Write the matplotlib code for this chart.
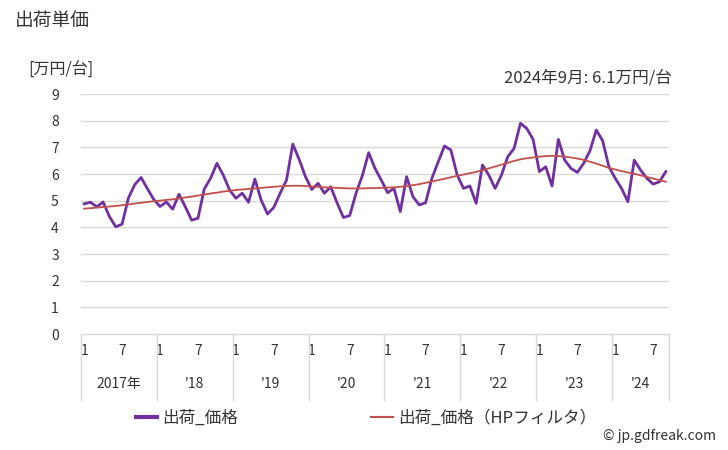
import matplotlib.pyplot as plt
import matplotlib.transforms as mtransforms
from matplotlib.lines import Line2D

plt.rcParams['font.family'] = ['Noto Sans CJK JP', 'DejaVu Sans']

# monthly unit price, Jan 2017 - Sep 2024 (万円/台)
price = [
    4.88, 4.94, 4.77, 4.95, 4.40, 4.02, 4.12, 5.10, 5.60, 5.87, 5.45, 5.05,
    4.78, 4.95, 4.68, 5.24, 4.77, 4.27, 4.34, 5.44, 5.84, 6.40, 5.96, 5.40,
    5.09, 5.28, 4.94, 5.81, 5.02, 4.50, 4.75, 5.28, 5.77, 7.12, 6.55, 5.90,
    5.42, 5.65, 5.28, 5.52, 4.92, 4.37, 4.44, 5.28, 5.94, 6.80, 6.21, 5.77,
    5.30, 5.46, 4.59, 5.90, 5.15, 4.84, 4.92, 5.84, 6.46, 7.05, 6.90, 5.96,
    5.46, 5.55, 4.90, 6.34, 5.96, 5.46, 5.96, 6.65, 6.96, 7.90, 7.71, 7.30,
    6.09, 6.27, 5.55, 7.30, 6.52, 6.21, 6.06, 6.40, 6.87, 7.65, 7.25, 6.27,
    5.84, 5.46, 4.96, 6.52, 6.15, 5.84, 5.62, 5.71, 6.09,
]
# HP filter trend
trend = [
    4.70, 4.72, 4.74, 4.76, 4.78, 4.80, 4.83, 4.86, 4.89, 4.92, 4.95, 4.98,
    5.00, 5.03, 5.05, 5.08, 5.12, 5.15, 5.19, 5.23, 5.27, 5.30, 5.34, 5.37,
    5.40, 5.42, 5.44, 5.46, 5.48, 5.50, 5.52, 5.54, 5.55, 5.56, 5.56, 5.55,
    5.53, 5.52, 5.50, 5.49, 5.48, 5.47, 5.46, 5.46, 5.46, 5.47, 5.47, 5.48,
    5.49, 5.50, 5.52, 5.55, 5.58, 5.62, 5.67, 5.72, 5.77, 5.82, 5.88, 5.93,
    5.98, 6.03, 6.08, 6.14, 6.21, 6.28, 6.35, 6.42, 6.49, 6.55, 6.59, 6.62,
    6.65, 6.67, 6.68, 6.67, 6.65, 6.62, 6.58, 6.53, 6.46, 6.39, 6.31, 6.23,
    6.17, 6.11, 6.06, 6.01, 5.95, 5.89, 5.83, 5.77, 5.71,
]
year_labels = ['2017年', "'18", "'19", "'20", "'21", "'22", "'23", "'24"]
months_in_year = [12, 12, 12, 12, 12, 12, 12, 9]

x = list(range(len(price)))
txt = '#333333'
grid_c = '#d9d9d9'

fig = plt.figure(figsize=(7.28, 4.5), dpi=100)
ax = fig.add_axes([81 / 728, 1 - 334 / 450, 588 / 728, 240 / 450])

ax.plot(x, price, color='#7030A0', lw=2.0, zorder=3, solid_joinstyle='round')
ax.plot(x, trend, color='#C0504D', lw=1.3, zorder=4)

ax.set_xlim(-0.5, len(price) - 0.5)
ax.set_ylim(0, 9)
ax.set_yticks(range(0, 10))
ax.tick_params(axis='y', length=0, pad=16, labelsize=10, labelcolor=txt)
for v in range(1, 10):
    ax.axhline(v, color=grid_c, lw=1, zorder=1)
for s in ['top', 'right', 'left']:
    ax.spines[s].set_visible(False)
ax.spines['bottom'].set_color(grid_c)
ax.spines['bottom'].set_linewidth(1)

# month ticks (1 and 7) and year labels
ticks, tlabels = [], []
start = 0
trans = mtransforms.blended_transform_factory(ax.transData, ax.transAxes)
bounds = [-0.5]
for lab, n in zip(year_labels, months_in_year):
    ticks += [start, start + 6] if n > 6 else [start]
    tlabels += ['1', '7'] if n > 6 else ['1']
    ax.text(start + (n - 1) / 2, -0.21, lab, transform=trans, ha='center',
            va='center', fontsize=10, color=txt)
    start += n
    bounds.append(start - 0.5)
ax.set_xticks(ticks)
ax.set_xticklabels(tlabels)
ax.tick_params(axis='x', length=0, pad=7, labelsize=10, labelcolor=txt)
for b in bounds:
    ax.plot([b, b], [0, -0.275], transform=trans, color=grid_c, lw=1, clip_on=False)

fig.text(15 / 728, 1 - 20 / 450, '出荷単価', fontsize=13.5, color=txt, va='center')
fig.text(28 / 728, 1 - 70 / 450, '[万円/台]', fontsize=11.5, color=txt, va='center')
fig.text(672 / 728, 1 - 78 / 450, '2024年9月: 6.1万円/台', fontsize=12, color=txt,
         va='center', ha='right')
fig.text(716 / 728, 1 - 436 / 450, '© jp.gdfreak.com', fontsize=10, color=txt,
         va='center', ha='right')

handles = [Line2D([], [], color='#7030A0', lw=3),
           Line2D([], [], color='#C0504D', lw=1.5)]
fig.legend(handles, ['出荷_価格', '出荷_価格（HPフィルタ）'], loc='center',
           bbox_to_anchor=(366 / 728, 1 - 418 / 450), ncol=2, frameon=False,
           fontsize=12, handlelength=1.3, handletextpad=0.3, columnspacing=8.0,
           labelcolor=txt)

fig.savefig('out.png', dpi=100)
